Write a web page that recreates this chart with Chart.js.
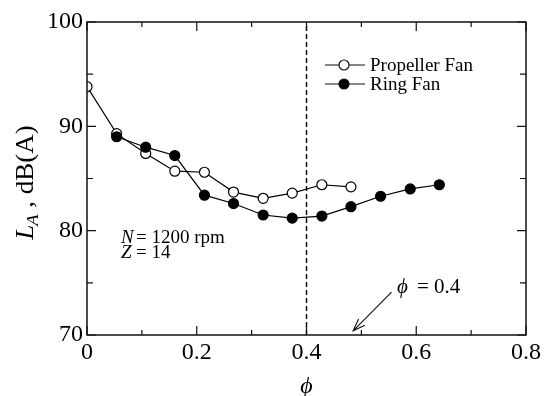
<!DOCTYPE html>
<html>
<head>
<meta charset="utf-8">
<script src="https://cdn.jsdelivr.net/npm/chart.js@4.4.1/dist/chart.umd.min.js"></script>
<style>
  body { margin: 0; background: #fff; }
  #wrap { width: 544px; height: 396px; }
</style>
</head>
<body>
<div id="wrap"><canvas id="myChart" width="544" height="396"></canvas></div>
<script>
// flow coefficient phi and A-weighted sound level
const phiProp = [0, 0.054, 0.107, 0.160, 0.214, 0.267, 0.321, 0.374, 0.428, 0.481];
const laProp = [93.8, 89.3, 87.4, 85.7, 85.6, 83.7, 83.1, 83.6, 84.4, 84.2];
const phiRing = [0.054, 0.107, 0.160, 0.214, 0.267, 0.321, 0.374, 0.428, 0.481, 0.535, 0.589, 0.642];
const laRing = [89.0, 88.0, 87.2, 83.4, 82.6, 81.5, 81.2, 81.4, 82.3, 83.3, 84.0, 84.4];
const phiDesign = [0.4, 0.4];
const laDesign = [70, 100];
const seriesNames = ['Propeller Fan', 'Ring Fan'];

const serif = "'Liberation Serif', 'Times New Roman', 'DejaVu Serif', serif";
const PHI = '\u03D5';

function pts(xs, ys) {
  return xs.map((x, i) => ({ x: x, y: ys[i] }));
}

// frame, inward ticks, legend and annotations
const decor = {
  id: 'decor',
  afterDraw(chart) {
    const ctx = chart.ctx;
    const a = chart.chartArea;
    const sx = chart.scales.x, sy = chart.scales.y;
    ctx.save();
    ctx.strokeStyle = '#111';
    ctx.lineWidth = 1.5;
    ctx.strokeRect(a.left, a.top, a.right - a.left, a.bottom - a.top);

    ctx.lineWidth = 1.2;
    ctx.beginPath();
    for (let i = 0; i <= 8; i++) {
      const px = sx.getPixelForValue(i / 10);
      const len = i % 2 === 0 ? 9 : 5;
      ctx.moveTo(px, a.bottom); ctx.lineTo(px, a.bottom - len);
      ctx.moveTo(px, a.top); ctx.lineTo(px, a.top + len);
    }
    for (let v = 70; v <= 100; v += 5) {
      const py = sy.getPixelForValue(v);
      const len = v % 10 === 0 ? 9 : 6;
      ctx.moveTo(a.left, py); ctx.lineTo(a.left + len, py);
      ctx.moveTo(a.right, py); ctx.lineTo(a.right - len, py);
    }
    ctx.stroke();

    // legend
    ctx.fillStyle = '#000';
    ctx.textBaseline = 'middle';
    ctx.textAlign = 'left';
    ctx.font = '19px ' + serif;
    const rows = [65, 84];
    rows.forEach((y, i) => {
      ctx.beginPath();
      ctx.lineWidth = 1.2;
      ctx.moveTo(325, y); ctx.lineTo(365, y);
      ctx.stroke();
      ctx.beginPath();
      ctx.arc(344, y, 5, 0, Math.PI * 2);
      ctx.fillStyle = i === 0 ? '#fff' : '#000';
      ctx.fill();
      ctx.stroke();
      ctx.fillStyle = '#000';
      ctx.fillText(seriesNames[i], 370, y + 1);
    });

    // y title
    ctx.save();
    ctx.translate(25, 182);
    ctx.rotate(-Math.PI / 2);
    ctx.scale(1.08, 1);
    ctx.textBaseline = 'alphabetic';
    ctx.font = 'italic 25px ' + serif;
    const wL = ctx.measureText('L').width;
    ctx.font = 'italic 17px ' + serif;
    const wA = ctx.measureText('A').width;
    ctx.font = '25px ' + serif;
    const rest = ' , dB(A)';
    const wR = ctx.measureText(rest).width;
    const x0 = -(wL + wA + wR) / 2;
    const base = 8;
    ctx.font = 'italic 25px ' + serif;
    ctx.fillText('L', x0, base);
    ctx.font = 'italic 17px ' + serif;
    ctx.fillText('A', x0 + wL - 1, base + 5);
    ctx.font = '25px ' + serif;
    ctx.fillText(rest, x0 + wL + wA - 1, base);
    ctx.restore();

    // x title
    ctx.textAlign = 'center';
    ctx.textBaseline = 'alphabetic';
    ctx.font = 'italic 24px ' + serif;
    ctx.fillText(PHI, (a.left + a.right) / 2, 393);

    // operating conditions
    ctx.textAlign = 'left';
    ctx.font = 'italic 19px ' + serif;
    ctx.fillText('N', 121, 243);
    ctx.fillText('Z', 121, 258);
    ctx.font = '19px ' + serif;
    ctx.fillText('= 1200 rpm', 136, 243);
    ctx.fillText('= 14', 136, 258);

    // phi = 0.4 marker
    ctx.font = 'italic 21px ' + serif;
    ctx.fillText(PHI, 397, 293);
    ctx.font = '21px ' + serif;
    ctx.fillText('= 0.4', 417, 293);

    const tx = sx.getPixelForValue(0.555), ty = sy.getPixelForValue(74.1);
    const hx = sx.getPixelForValue(0.485), hy = sy.getPixelForValue(70.4);
    ctx.beginPath();
    ctx.lineWidth = 1.1;
    ctx.moveTo(tx, ty); ctx.lineTo(hx, hy);
    const ang = Math.atan2(hy - ty, hx - tx);
    const hl = 13, hw = 0.35;
    ctx.moveTo(hx - hl * Math.cos(ang - hw), hy - hl * Math.sin(ang - hw));
    ctx.lineTo(hx, hy);
    ctx.lineTo(hx - hl * Math.cos(ang + hw), hy - hl * Math.sin(ang + hw));
    ctx.stroke();
    ctx.restore();
  }
};

const ctx = document.getElementById('myChart').getContext('2d');

new Chart(ctx, {
  type: 'scatter',
  data: {
    datasets: [{
      label: seriesNames[1],
      data: pts(phiRing, laRing),
      showLine: true,
      borderColor: '#000',
      borderWidth: 1.2,
      pointRadius: 5,
      pointBorderWidth: 1.2,
      pointBackgroundColor: '#000',
      pointBorderColor: '#000',
      order: 1
    }, {
      label: seriesNames[0],
      data: pts(phiProp, laProp),
      showLine: true,
      borderColor: '#000',
      borderWidth: 1.2,
      pointRadius: 5,
      pointBorderWidth: 1.2,
      pointBackgroundColor: '#fff',
      pointBorderColor: '#000',
      order: 2
    }, {
      label: 'design point',
      data: pts(phiDesign, laDesign),
      showLine: true,
      borderColor: '#000',
      borderWidth: 1.4,
      borderDash: [5, 3],
      pointRadius: 0,
      order: 3
    }]
  },
  options: {
    responsive: false,
    animation: false,
    devicePixelRatio: 1,
    layout: { padding: { left: 0, right: 17, top: 22, bottom: 0 } },
    plugins: {
      legend: { display: false },
      tooltip: { enabled: false }
    },
    scales: {
      x: {
        type: 'linear',
        min: 0,
        max: 0.8,
        grid: { display: false, drawTicks: false },
        border: { display: false },
        ticks: {
          stepSize: 0.2,
          padding: 3,
          color: '#000',
          font: { family: serif, size: 24 }
        },
        afterFit: (s) => { s.height = 61; }
      },
      y: {
        min: 70,
        max: 100,
        grid: { display: false, drawTicks: false },
        border: { display: false },
        ticks: {
          stepSize: 10,
          padding: 4,
          color: '#000',
          font: { family: serif, size: 24 }
        },
        afterFit: (s) => { s.width = 87; }
      }
    }
  },
  plugins: [decor]
});
</script>
</body>
</html>
